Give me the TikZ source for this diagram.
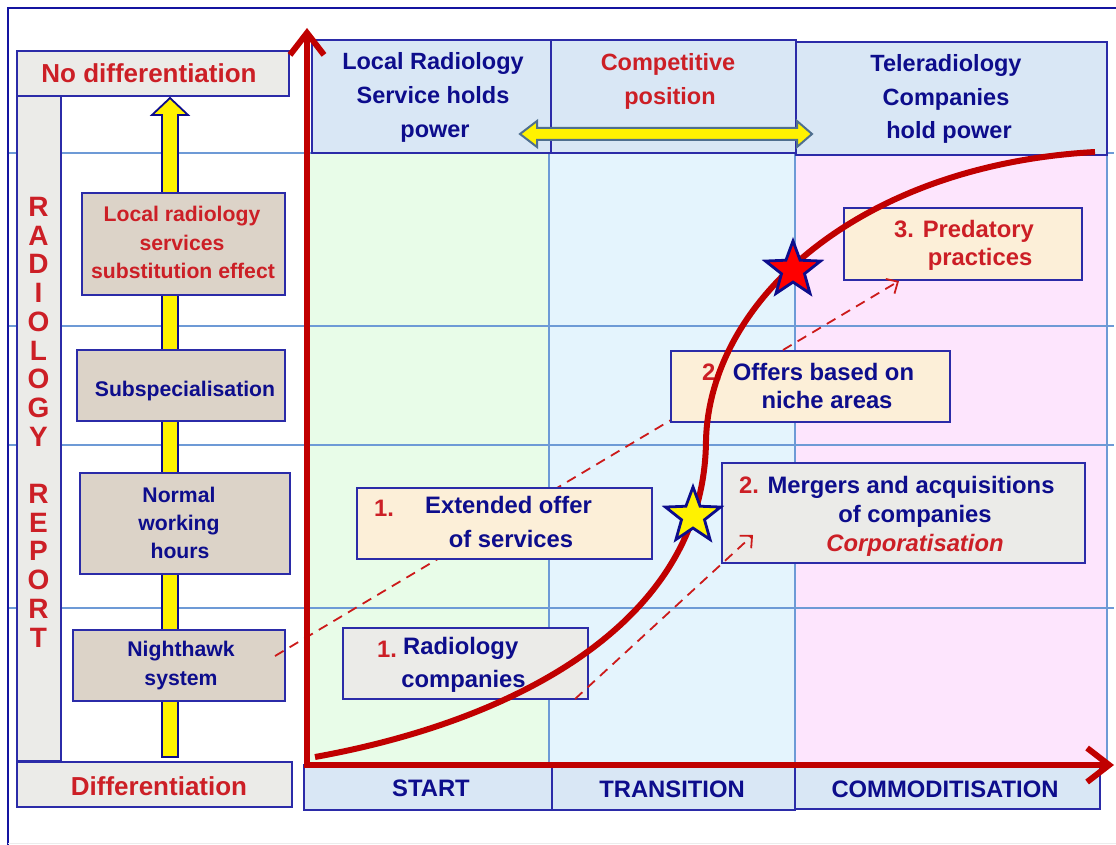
\documentclass[tikz,border=0pt]{standalone}
\usepackage{fontspec}
\setmainfont{Liberation Sans}
\usetikzlibrary{arrows.meta,shapes.geometric}
\definecolor{navyt}{HTML}{0D0D8C}
\definecolor{redt}{HTML}{CC1F26}
\definecolor{axred}{HTML}{C00000}
\definecolor{dashred}{HTML}{CC1A1A}
\definecolor{frameblue}{HTML}{1414A0}
\definecolor{gridblue}{HTML}{6D9AD6}
\definecolor{boxblue}{HTML}{2B2BA8}
\definecolor{hdrfill}{HTML}{D9E7F5}
\definecolor{greyfill}{HTML}{EBEBE8}
\definecolor{tanfill}{HTML}{DCD3C8}
\definecolor{creamfill}{HTML}{FCEFD8}
\definecolor{colgreen}{HTML}{E8FCE8}
\definecolor{colblue}{HTML}{E4F4FD}
\definecolor{colpink}{HTML}{FDE5FD}
\definecolor{steel}{HTML}{4F6F8F}
\newcommand\myfs[1]{\fontsize{#1}{#1}\selectfont}
\begin{document}
\begin{tikzpicture}[x=1pt,y=-1pt,
  box/.style={rectangle, draw=boxblue, line width=1.3pt, inner sep=0pt, outer sep=0pt},
  greybox/.style={box, fill=greyfill},
  tanbox/.style={box, fill=tanfill},
  creambox/.style={box, fill=creamfill},
  hdrbox/.style={box, fill=hdrfill},
  gridline/.style={draw=gridblue, line width=1.2pt},
  bt/.style={text=navyt, font=\bfseries\myfs{23.8}, anchor=base, inner sep=0pt},
  rt/.style={text=redt, font=\bfseries\myfs{23.8}, anchor=base, inner sep=0pt},
  hbt/.style={bt, font=\bfseries\myfs{23.5}},
  hrt/.style={rt, font=\bfseries\myfs{23.5}},
  lbt/.style={bt, font=\bfseries\myfs{21.2}},
  lrt/.style={rt, font=\bfseries\myfs{21.2}},
  dsh/.style={draw=dashred, line width=1.8pt, dash pattern=on 10pt off 7pt},
  dsharrow/.style={dsh, -{Straight Barb[length=9pt,width=17pt,line width=1.8pt]}},
  axis/.style={draw=axred, line width=6pt, -{Straight Barb[length=22pt,width=34pt]}},
  curve/.style={draw=axred, line width=6pt},
  yarrow/.style={fill=yellow, draw=navyt, line width=1.8pt, line join=miter},
  starnode/.style={star, star points=5, star point ratio=2.4, minimum size=58pt, inner sep=0pt, line width=2.8pt, draw=navyt}
]
\useasboundingbox (0,0) rectangle (1116,845);
\fill[white] (0,0) rectangle (1116,845);

% column fills
\fill[colgreen] (307,153) rectangle (549,765);
\fill[colblue] (549,153) rectangle (795,765);
\fill[colpink] (795,153) rectangle (1107,765);

% grid
\foreach \yy in {153,326,445,608} \draw[gridline] (8,\yy) -- (1114,\yy);
\foreach \xx in {549,795,1107} \draw[gridline] (\xx,153) -- (\xx,765);

% frame
\draw[frameblue, line width=2pt] (8,845) -- (8,8) -- (1116,8);
\draw[gray!15, line width=1pt] (8,843) -- (1116,843);

% yellow vertical arrow
\draw[yarrow] (162,757) -- (178,757) -- (178,115) -- (188,115) -- (170,98) -- (152,115) -- (162,115) -- cycle;

% left column
\node[greybox, minimum width=272pt, minimum height=45pt] (nodiff) at (153,73.5) {};
\node[rt, font=\bfseries\myfs{26}] (nodifft) at (149,83) {No differentiation};
\node[greybox, minimum width=44pt, minimum height=665pt] (radrep) at (39,428.5) {};
\foreach \L [count=\i from 0] in {R,A,D,I,O,L,O,G,Y,{},R,E,P,O,R,T}
  \node[rt, font=\bfseries\myfs{28}] (rr\i) at ({38.5},{216.5+28.7*\i}) {\L};
\node[greybox, minimum width=275pt, minimum height=45pt] (diff) at (154.5,784.5) {};
\node[rt, font=\bfseries\myfs{26}] (difft) at (159,795.5) {Differentiation};

\node[tanbox, minimum width=203pt, minimum height=102pt] (lrs) at (183.5,244) {};
\node[lrt] (lrs1) at (182,222) {Local radiology};
\node[lrt] (lrs2) at (182,250) {services};
\node[lrt] (lrs3) at (183,278) {substitution effect};

\node[tanbox, minimum width=208pt, minimum height=71pt] (subsp) at (181,385.5) {};
\node[lbt] (subspt) at (185,396) {Subspecialisation};

\node[tanbox, minimum width=210pt, minimum height=101pt] (normal) at (185,523.5) {};
\node[lbt] (norm1) at (179,502) {Normal};
\node[lbt] (norm2) at (179,530) {working};
\node[lbt] (norm3) at (180,558) {hours};

\node[tanbox, minimum width=212pt, minimum height=71pt] (night) at (179,665.5) {};
\node[lbt] (night1) at (181,656) {Nighthawk};
\node[lbt] (night2) at (181,685) {system};

% header boxes
\node[hdrbox, minimum width=239pt, minimum height=113pt] (hdr1) at (431.5,96.5) {};
\node[hbt] (h1a) at (433,70) {Local Radiology};
\node[hbt] (h1b) at (433,104) {Service holds};
\node[hbt] (h1c) at (435,138) {power};
\node[hdrbox, minimum width=245pt, minimum height=113pt] (hdr2) at (673.5,96.5) {};
\node[hrt] (h2a) at (668,71) {Competitive};
\node[hrt] (h2b) at (670,105) {position};
\node[hdrbox, minimum width=311pt, minimum height=113pt] (hdr3) at (951.5,98.5) {};
\node[hbt] (h3a) at (946,72) {Teleradiology};
\node[hbt] (h3b) at (946,106) {Companies};
\node[hbt] (h3c) at (949,139) {hold power};

% bottom boxes
\node[hdrbox, minimum width=248pt, minimum height=45pt] (start) at (428,787.5) {};
\node[bt] (startt) at (431,796) {START};
\node[hdrbox, minimum width=243pt, minimum height=45pt] (trans) at (673.5,787.5) {};
\node[bt] (transt) at (672,797) {TRANSITION};
\node[hdrbox, minimum width=305pt, minimum height=42pt] (comm) at (947.5,788) {};
\node[bt] (commt) at (945,797) {COMMODITISATION};

% dashed line from Nighthawk (behind extended-offer box)
\coordinate (d1s) at (275,656);
\coordinate (d1e) at (671,420);
\draw[dsh] (d1s) -- (d1e);

% chart boxes
\node[greybox, minimum width=245pt, minimum height=71pt] (radco) at (465.5,663.5) {};
\node[rt, anchor=base west] (radco0) at (377,657) {1.};
\node[bt, anchor=base west] (radco1) at (403,654) {Radiology};
\node[bt] (radco2) at (463.5,687) {companies};

\node[creambox, minimum width=295pt, minimum height=71pt] (ext) at (504.5,523.5) {};
\node[rt, anchor=base west] (ext0) at (374,516) {1.};
\node[bt] (ext1) at (508.5,513) {Extended offer};
\node[bt] (ext2) at (511,547) {of services};

\node[greybox, minimum width=363pt, minimum height=100pt] (merg) at (903.5,513) {};
\node[rt, anchor=base west] (merg0) at (739,493) {2.};
\node[bt] (merg1) at (911,493) {Mergers and acquisitions};
\node[bt] (merg2) at (915,522) {of companies};
\node[rt, font=\bfseries\itshape\myfs{23.8}] (merg3) at (915,551) {Corporatisation};

\node[creambox, minimum width=279pt, minimum height=71pt] (niche) at (810.5,386.5) {};
\node[rt, anchor=base west] (niche0) at (702,380) {2.};
\node[bt] (niche1) at (823.5,380) {Offers based on};
\node[bt] (niche2) at (827,408) {niche areas};

\node[creambox, minimum width=238pt, minimum height=72pt] (pred) at (963,244) {};
\node[rt] (pred1) at (964,237) {3. Predatory};
\node[rt] (pred2) at (980,265) {practices};

% S curve
\draw[curve] (315,757) .. controls (520,720) and (705,620) .. (706,440)
  .. controls (710,300) and (860,165) .. (1095,152);

% dashed arrows
\coordinate (d2s) at (783,350);
\coordinate (d2e) at (899,281);
\draw[dsharrow] (d2s) -- (d2e);
\coordinate (d3s) at (575,699);
\coordinate (d3e) at (753,535);
\draw[dsharrow] (d3s) -- (d3e);

% stars
\node[starnode, fill=yellow] (ystar) at (693,516) {};
\node[starnode, fill=red] (rstar) at (793,270) {};

% axes
\coordinate (origin) at (307,765);
\coordinate (ytip) at (307,28);
\coordinate (xtip) at (1114,765);
\draw[axis] (origin) -- (ytip);
\draw[axis] (304,765) -- (xtip);

% double arrow
\draw[fill=yellow, draw=steel, line width=2pt, line join=miter] (520,134) -- (537,121) -- (537,128) -- (797,128) -- (797,121) -- (812,134) -- (797,147) -- (797,140) -- (537,140) -- (537,147) -- cycle;
\end{tikzpicture}
\end{document}
